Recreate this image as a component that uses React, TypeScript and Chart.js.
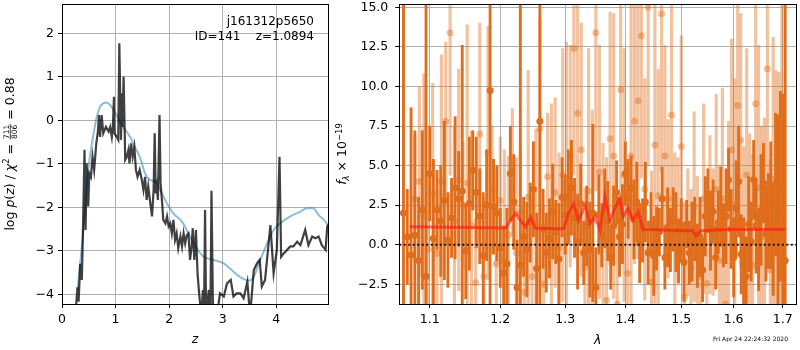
import React, { useEffect, useRef } from 'react';
import { Chart, registerables } from 'chart.js';
Chart.register(...registerables);

const FONT = '"DejaVu Sans", sans-serif';

// ---------------- left panel: log p(z) ----------------
const zTicks = [0, 1, 2, 3, 4];
const logpTicks = [-4, -3, -2, -1, 0, 1, 2];

const zSmooth = [0.29, 0.34, 0.40, 0.46, 0.52, 0.59, 0.65, 0.71, 0.77, 0.83, 0.90, 0.96, 1.02, 1.08, 1.18, 1.27, 1.36, 1.46, 1.55, 1.64, 1.74, 1.83, 1.96, 2.08, 2.24, 2.36, 2.49, 2.64, 2.83, 3.02, 3.20, 3.36, 3.48, 3.58, 3.70, 3.83, 3.95, 4.07, 4.26, 4.45, 4.57, 4.69, 4.79, 4.89, 4.98];
const logpSmooth = [-3.90, -3.29, -2.52, -1.52, -0.84, -0.30, 0.08, 0.31, 0.39, 0.41, 0.35, 0.24, 0.12, -0.03, -0.22, -0.38, -0.61, -0.87, -1.22, -1.37, -1.41, -1.60, -1.91, -2.14, -2.33, -2.60, -2.90, -3.13, -3.21, -3.29, -3.48, -3.63, -3.69, -3.59, -3.21, -2.83, -2.52, -2.37, -2.21, -2.10, -2.02, -2.02, -2.18, -2.29, -2.44];

const zFit = [
  0.24, 0.26, 0.29, 0.31, 0.34, 0.37, 0.39, 0.42, 0.44, 0.46,
  0.49, 0.51, 0.54, 0.57, 0.60, 0.64, 0.67, 0.69, 0.71, 0.74,
  0.77, 0.82, 0.87, 0.90, 0.93, 0.95, 0.97, 0.98, 1.02, 1.05,
  1.07, 1.10, 1.12, 1.13, 1.15, 1.18, 1.21, 1.24, 1.26, 1.29,
  1.32, 1.35, 1.38, 1.41, 1.45, 1.49, 1.52, 1.55, 1.58, 1.61,
  1.64, 1.68, 1.71, 1.73, 1.75, 1.77, 1.79, 1.82, 1.84, 1.87,
  1.89, 1.93, 1.96, 1.99, 2.02, 2.05, 2.08, 2.11, 2.14, 2.17,
  2.21, 2.24, 2.27, 2.30, 2.33, 2.36, 2.39, 2.42, 2.44, 2.47,
  2.50, 2.53, 2.56, 2.60, 2.63, 2.65, 2.67, 2.69, 2.74, 2.77,
  2.79, 2.82, 2.89, 2.95, 3.02, 3.08, 3.15, 3.20, 3.26, 3.33,
  3.39, 3.46, 3.51, 3.58, 3.64, 3.69, 3.73, 3.79, 3.89, 3.95,
  4.01, 4.06, 4.09, 4.14, 4.26, 4.32, 4.39, 4.45, 4.54, 4.60,
  4.67, 4.73, 4.79, 4.85, 4.92, 4.95, 4.97
];
const logpFit = [
  -4.50, -4.30, -3.84, -4.17, -3.30, -3.67, -2.60, -0.68, -2.52, -0.99,
  -1.98, -1.22, -1.30, -0.84, -1.14, -0.53, -0.26, 0.12, -0.38, 0.12,
  -0.30, -0.15, -0.26, -0.15, -0.38, -0.15, 0.54, -0.30, -0.38, -0.45,
  1.77, -0.45, 0.62, -0.15, 1.00, -0.91, -0.84, -0.68, -0.99, -0.53,
  -0.84, -0.61, -1.14, -1.30, -1.14, -1.37, -1.60, -1.30, -1.83, -1.52,
  -1.83, -2.21, -1.60, -0.30, -1.68, -1.52, -1.83, 0.12, -1.45, -1.91,
  -2.29, -2.37, -2.21, -2.44, -2.37, -2.60, -2.29, -2.75, -2.60, -2.94,
  -2.67, -2.90, -2.60, -2.83, -2.64, -2.60, -3.21, -2.90, -2.48, -3.21,
  -2.52, -3.52, -3.98, -4.50, -3.90, -4.50, -2.06, -4.50, -3.90, -4.50,
  -1.62, -4.50, -4.50, -3.98, -4.05, -3.75, -3.67, -4.05, -3.98, -3.98,
  -4.09, -3.71, -4.50, -3.44, -3.29, -3.21, -3.82, -3.67, -2.41, -3.52,
  -2.98, -0.84, -3.14, -3.06, -2.90, -2.90, -2.79, -2.87, -2.52, -2.87,
  -2.67, -2.71, -2.67, -2.87, -2.98, -2.45, -2.40
];

// ---------------- right panel: spectrum ----------------
const lamTicks = [1.1, 1.2, 1.3, 1.4, 1.5, 1.6, 1.7];
const fluxTicks = [-2.5, 0, 2.5, 5, 7.5, 10, 12.5, 15];

const darkLam = [
  1.065, 1.070, 1.075, 1.080, 1.085, 1.090, 1.095, 1.100, 1.105, 1.110,
  1.115, 1.120, 1.125, 1.130, 1.135, 1.140, 1.145, 1.150, 1.155, 1.160,
  1.165, 1.170, 1.175, 1.180, 1.185, 1.190, 1.195, 1.200, 1.205, 1.210,
  1.215, 1.220, 1.225, 1.230, 1.235, 1.240, 1.245, 1.250, 1.255, 1.260,
  1.265, 1.270, 1.275, 1.280, 1.285, 1.290, 1.295, 1.300, 1.305, 1.310,
  1.315, 1.320, 1.325, 1.330, 1.335, 1.340, 1.345, 1.350, 1.355, 1.360,
  1.365, 1.370, 1.375, 1.380, 1.385, 1.390, 1.395, 1.400, 1.405, 1.410,
  1.415, 1.420, 1.425, 1.430, 1.435, 1.440, 1.445, 1.450, 1.455, 1.460,
  1.465, 1.470, 1.475, 1.480, 1.485, 1.490, 1.495, 1.500, 1.505, 1.510,
  1.515, 1.520, 1.525, 1.530, 1.535, 1.540, 1.545, 1.550, 1.555, 1.560,
  1.565, 1.570, 1.575, 1.580, 1.585, 1.590, 1.595, 1.600, 1.605, 1.610,
  1.615, 1.620, 1.625, 1.630, 1.635, 1.640, 1.645, 1.650, 1.655, 1.660,
  1.665, 1.670, 1.675, 1.680, 1.685, 1.690, 1.695, 1.700, 1.705
];
const darkFlux = [
  2.0, 0.5, -0.65, 0.6, -1.0, 2.2, -2.0, 4.5, 0.4, 2.2,
  1.5, 2.8, 0.3, 1.7, 3.6, 2.9, 3.4, -0.4, 2.6, 4.7,
  3.3, 1.8, -0.7, 2.5, 9.75, 2.4, 2.0, -0.2, -1.8, -1.2,
  4.5, 2.7, -2.7, -1.3, 0.5, -0.3, 1.4, 3.5, -1.5, 7.8,
  1.0, -0.5, 0.4, 2.1, 0.8, -0.9, 3.0, 1.9, 3.0, 3.6,
  1.7, 0.2, 2.6, -0.5, 1.2, -0.3, 2.0, -2.7, 1.9, 0.6,
  2.3, 1.5, -0.8, 1.2, 3.3, 0.5, 1.3, 4.5, 2.9, 3.6,
  1.6, 2.7, 0.1, 0.9, 2.7, -0.5, 1.3, -0.7, 0.4, 0.8,
  2.9, -0.8, 1.1, 0.3, 1.6, 0.8, -0.4, 0.9, -1.1, 1.3,
  -0.5, 0.2, 1.0, -0.7, 0.5, -1.6, 1.8, 2.8, 0.9, 2.1,
  -0.8, 1.4, 2.4, 0.6, 1.8, 4.1, 1.0, -0.8, 2.3, 4.0,
  -0.6, -1.3, -2.0, 1.3, 0.2, 4.1, 1.2, -0.4, 2.2, 3.9,
  0.7, 1.5, 2.5, 0.3, 3.8, 1.2, 3.7, 0.5, -1.0
];
const darkErr = [
  18, 3.0, 9.3, 6.6, 4.0, 5.0, 18, 3.0, 5.0, 2.5,
  3.5, 5.0, 3.0, 2.5, 4.5, 3.0, 9.2, 3.0, 4.2, 2.5,
  3.5, 3.0, 4.0, 3.5, 15, 3.0, 3.0, 2.5, 3.0, 3.5,
  3.0, 3.0, 3.0, 18, 2.5, 3.0, 2.5, 3.0, 3.5, 18,
  2.5, 2.5, 2.5, 3.0, 2.0, 3.5, 2.5, 2.5, 3.0, 3.0,
  2.5, 3.0, 2.5, 2.0, 2.5, 3.0, 5.6, 2.5, 2.5, 2.0,
  2.5, 2.5, 2.0, 2.5, 2.0, 2.5, 2.5, 2.0, 2.5, 2.0,
  2.5, 2.5, 2.5, 2.0, 2.5, 2.0, 2.0, 2.5, 2.0, 1.5,
  2.0, 2.0, 2.5, 2.0, 2.0, 2.5, 2.0, 2.0, 2.5, 1.5,
  2.0, 2.5, 2.0, 2.0, 2.5, 2.0, 2.5, 2.0, 2.5, 2.0,
  2.0, 2.0, 2.5, 2.0, 3.0, 2.0, 2.5, 2.5, 3.0, 3.5,
  2.5, 3.0, 2.5, 3.0, 2.5, 2.5, 3.0, 2.5, 3.5, 2.5,
  3.0, 3.0, 4.0, 3.5, 4.5, 7.0, 6.0, 9.0, 18
];

const lightLam = [
  1.080, 1.086, 1.092, 1.098, 1.104, 1.110, 1.116, 1.122, 1.128, 1.134,
  1.140, 1.146, 1.152, 1.158, 1.164, 1.170, 1.176, 1.182, 1.188, 1.194,
  1.200, 1.206, 1.212, 1.218, 1.224, 1.230, 1.236, 1.242, 1.248, 1.254,
  1.260, 1.266, 1.272, 1.278, 1.284, 1.290, 1.296, 1.302, 1.308, 1.314,
  1.320, 1.326, 1.332, 1.338, 1.344, 1.350, 1.356, 1.362, 1.368, 1.374,
  1.380, 1.386, 1.392, 1.398, 1.404, 1.410, 1.416, 1.422, 1.428, 1.434,
  1.440, 1.446, 1.452, 1.458, 1.464, 1.470, 1.476, 1.482, 1.488, 1.494,
  1.500, 1.506, 1.512, 1.518, 1.524, 1.530, 1.536, 1.542, 1.548, 1.554,
  1.560, 1.566, 1.572, 1.578, 1.584, 1.590, 1.596, 1.602, 1.608, 1.614,
  1.620, 1.626, 1.632, 1.638, 1.644, 1.650, 1.656, 1.662, 1.668, 1.674,
  1.680, 1.686, 1.692, 1.698
];
const lightFlux = [
  2.9, 4.0, 1.8, -0.3, 3.2, -0.55, 4.0, 7.8, 13.4, 1.5,
  4.1, 2.5, 3.9, 1.2, -2.4, 7.0, -2.0, 5.8, 3.5, -1.2,
  2.8, -1.0, 0.6, 4.6, -0.5, 2.0, -3.0, 3.0, -2.0, 1.3,
  7.3, -2.5, 4.3, 0.9, 3.3, -0.2, 4.4, 2.8, 5.6, 12.4,
  8.3, 6.0, -1.4, 3.4, 1.5, 13.4, 4.6, 0.4, -3.5, 6.7,
  5.6, -3.75, 9.8, 4.4, -1.8, 5.6, 7.8, 9.1, 13.2, 3.5,
  15.0, -2.35, 6.3, 3.1, 14.6, 5.6, 2.9, 8.2, -0.2, 1.5,
  6.2, -3.3, 0.8, -1.5, 2.4, 0.3, -2.0, 2.9, -2.45, 1.9,
  0.8, 3.5, -1.0, 2.9, -3.75, 1.8, 6.0, 2.5, 8.8, 6.6,
  -0.8, 4.4, 1.0, -1.3, 8.9, 3.6, 0.5, 2.0, 11.1, -1.6,
  4.1, 3.0, 0.9, 2.0
];
const lightErr = [
  4, 6, 9, 5, 7, 4, 8, 5, 9, 6,
  7, 4, 10, 6, 4, 7, 5, 8, 4, 6,
  4, 7, 5, 4, 6, 4, 4, 8, 5, 6,
  7, 5, 4, 8, 6, 6, 8, 10, 7, 8,
  7, 8, 5, 9, 7, 10, 8, 6, 9, 8,
  9, 6, 10, 8, 7, 10, 9, 10, 9, 7,
  10, 7, 10, 8, 10, 7, 5, 8, 6, 4,
  7, 6, 4, 5, 6, 4, 5, 6, 6, 5,
  4, 6, 6, 7, 6, 6, 7, 8, 8, 8,
  7, 8, 6, 7, 8, 9, 7, 6, 8, 7,
  9, 8, 10, 14
];

const modelLam = [1.0734, 1.2081, 1.2156, 1.2230, 1.2305, 1.2380, 1.2456, 1.2533, 1.2975, 1.3054, 1.3134, 1.3214, 1.3268, 1.3323, 1.3405, 1.3487, 1.3570, 1.3654, 1.3737, 1.3821, 1.3905, 1.3962, 1.4048, 1.4134, 1.4221, 1.4308, 1.4632, 1.5210, 1.5272, 1.5365, 1.5876, 1.7048];
const modelFlux = [1.14, 1.06, 1.56, 1.99, 1.52, 1.14, 1.73, 1.04, 1.01, 1.99, 2.58, 1.56, 1.99, 2.51, 1.35, 1.77, 0.93, 3.04, 1.56, 2.30, 2.94, 1.77, 2.30, 1.56, 2.09, 0.97, 0.93, 0.89, 0.55, 0.89, 0.97, 0.97];

const zeroLam = [1.0595, 1.7279];
const zeroFlux = [0, 0];

const DARK = 'rgb(223,109,27)';
const LIGHT = 'rgba(223,109,27,0.42)';

const minus = (s: string) => s.replace('-', '\u2212');

const framePlugin = {
  id: 'frame',
  afterDraw(chart: any) {
    const { ctx, chartArea: a } = chart;
    ctx.save();
    ctx.strokeStyle = '#000';
    ctx.lineWidth = 1;
    const l = Math.floor(a.left) + 0.5, t = Math.floor(a.top) + 0.5;
    const r = Math.floor(a.right) + 0.5, b = Math.floor(a.bottom) + 0.5;
    ctx.strokeRect(l, t, r - l, b - t);
    ctx.restore();
  },
};

type Part = { t: string; f: string; dy?: number; frac?: [string, string] };

function drawRotated(ctx: CanvasRenderingContext2D, parts: Part[], cy: number, v0: number) {
  ctx.save();
  ctx.translate(0, cy);
  ctx.rotate(-Math.PI / 2);
  ctx.fillStyle = '#000';
  ctx.textBaseline = 'alphabetic';
  const widths = parts.map((p) => {
    ctx.font = p.f;
    if (p.frac) return Math.max(ctx.measureText(p.frac[0]).width, ctx.measureText(p.frac[1]).width) + 2;
    return ctx.measureText(p.t).width;
  });
  const total = widths.reduce((s, w) => s + w, 0);
  let u = -total / 2;
  parts.forEach((p, i) => {
    ctx.font = p.f;
    if (p.frac) {
      const w = widths[i];
      const axis = v0 - 3.8;
      ctx.textAlign = 'center';
      ctx.fillText(p.frac[0], u + w / 2, axis - 1.3);
      ctx.fillText(p.frac[1], u + w / 2, axis + 6.8);
      ctx.fillRect(u + 0.5, axis - 0.4, w - 1, 0.8);
      ctx.textAlign = 'left';
    } else {
      ctx.textAlign = 'left';
      ctx.fillText(p.t, u, v0 + (p.dy || 0));
    }
    u += widths[i];
  });
  ctx.restore();
}

const N = `12.5px ${FONT}`;
const I = `italic 12.5px ${FONT}`;
const S = `8.5px ${FONT}`;
const F = `7.5px ${FONT}`;

const leftText = {
  id: 'leftText',
  afterDraw(chart: any) {
    const ctx = chart.ctx as CanvasRenderingContext2D;
    const a = chart.chartArea;
    drawRotated(ctx, [
      { t: 'log ', f: N }, { t: 'p', f: I }, { t: '(', f: N }, { t: 'z', f: I }, { t: ')', f: N },
      { t: ' / ', f: N }, { t: '\u03c7', f: I }, { t: '2', f: S, dy: -5 }, { t: ' = ', f: N },
      { t: '', f: F, frac: ['711', '806'] }, { t: ' = 0.88', f: N },
    ], (a.top + a.bottom) / 2, 14);
    ctx.save();
    ctx.fillStyle = '#000';
    ctx.font = I;
    ctx.textAlign = 'center';
    ctx.textBaseline = 'middle';
    ctx.fillText('z', (a.left + a.right) / 2, 340);
    ctx.font = `12px ${FONT}`;
    ctx.textAlign = 'right';
    ctx.fillText('j161312p5650', 314, 22);
    ctx.fillText('ID=141    z=1.0894', 314, 37);
    ctx.restore();
  },
};

const rightText = {
  id: 'rightText',
  afterDraw(chart: any) {
    const ctx = chart.ctx as CanvasRenderingContext2D;
    const a = chart.chartArea;
    drawRotated(ctx, [
      { t: 'f', f: I }, { t: '\u03bb', f: `italic 8.5px ${FONT}`, dy: 2.5 }, { t: ' \u00d7 10', f: N },
      { t: '\u221219', f: S, dy: -4.5 },
    ], (a.top + a.bottom) / 2, 11);
    ctx.save();
    ctx.fillStyle = '#000';
    ctx.font = I;
    ctx.textAlign = 'center';
    ctx.textBaseline = 'middle';
    ctx.fillText('\u03bb', (a.left + a.right) / 2, 341);
    ctx.font = `6px ${FONT}`;
    ctx.textAlign = 'right';
    ctx.fillText('Fri Apr 24 22:24:32 2020', 453, 339);
    ctx.restore();
  },
};

const gridOpts = { color: '#b0b0b0', lineWidth: 1, tickColor: '#000', tickLength: 4, drawTicks: true, offset: false };
const tickFont = { family: FONT, size: 12.5 };

function xFit(h: number) {
  return (s: any) => { s.height = h; s.paddingLeft = 0; s.paddingRight = 0; s.paddingTop = 0; s.paddingBottom = 0; };
}
function yFit(w: number) {
  return (s: any) => { s.width = w; s.paddingLeft = 0; s.paddingRight = 0; s.paddingTop = 0; s.paddingBottom = 0; };
}

export default function App() {
  const leftRef = useRef<HTMLCanvasElement>(null);
  const rightRef = useRef<HTMLCanvasElement>(null);

  useEffect(() => {
    const left = new Chart(leftRef.current as HTMLCanvasElement, {
      type: 'line',
      data: {
        datasets: [
          {
            data: zSmooth.map((z, i) => ({ x: z, y: logpSmooth[i] })),
            borderColor: 'rgba(31,119,180,0.5)', borderWidth: 2, pointRadius: 0,
            cubicInterpolationMode: 'monotone', clip: 0, order: 2,
          } as any,
          {
            data: zFit.map((z, i) => ({ x: z, y: logpFit[i] })),
            borderColor: 'rgba(0,0,0,0.75)', borderWidth: 2.2, pointRadius: 0,
            tension: 0, clip: 0, order: 1,
          } as any,
        ],
      },
      options: {
        animation: false, responsive: false, events: [],
        plugins: { legend: { display: false }, tooltip: { enabled: false } },
        layout: { padding: { top: 4, right: 7, left: 0, bottom: 0 } },
        scales: {
          x: {
            type: 'linear', min: 0, max: 4.965,
            afterBuildTicks: (s: any) => { s.ticks = zTicks.map((v) => ({ value: v })); },
            afterFit: xFit(46),
            grid: gridOpts, border: { display: false },
            ticks: { font: tickFont, color: '#000', padding: 4, maxRotation: 0, autoSkip: false, callback: (v: any) => minus(String(v)) },
          },
          y: {
            type: 'linear', min: -4.223, max: 2.674,
            afterBuildTicks: (s: any) => { s.ticks = logpTicks.map((v) => ({ value: v })); },
            afterFit: yFit(62),
            grid: gridOpts, border: { display: false },
            ticks: { font: tickFont, color: '#000', padding: 4, autoSkip: false, callback: (v: any) => minus(String(v)) },
          },
        },
      } as any,
      plugins: [framePlugin, leftText],
    });

    const right = new Chart(rightRef.current as HTMLCanvasElement, {
      type: 'bar',
      data: {
        datasets: [
          {
            type: 'line', data: zeroLam.map((x, i) => ({ x, y: zeroFlux[i] })),
            borderColor: 'rgba(0,0,0,0.85)', borderWidth: 2, borderDash: [2, 2.5], pointRadius: 0, clip: 0, order: 1,
          },
          {
            type: 'line', data: modelLam.map((x, i) => ({ x, y: modelFlux[i] })),
            borderColor: 'rgba(255,20,20,0.6)', borderWidth: 3, pointRadius: 0, tension: 0, clip: 0, order: 2,
          },
          {
            type: 'scatter', data: darkLam.map((x, i) => ({ x, y: darkFlux[i] })),
            pointRadius: 3.5, pointBackgroundColor: DARK, pointBorderWidth: 0, borderWidth: 0, clip: 0, order: 3,
          },
          {
            type: 'bar', data: darkLam.map((x, i) => ({ x, y: [darkFlux[i] - darkErr[i], darkFlux[i] + darkErr[i]] })),
            backgroundColor: DARK, barThickness: 2.2, grouped: false, clip: 0, order: 4,
          },
          {
            type: 'scatter', data: lightLam.map((x, i) => ({ x, y: lightFlux[i] })),
            pointRadius: 3.5, pointBackgroundColor: LIGHT, pointBorderWidth: 0, borderWidth: 0, clip: 0, order: 5,
          },
          {
            type: 'bar', data: lightLam.map((x, i) => ({ x, y: [lightFlux[i] - lightErr[i], lightFlux[i] + lightErr[i]] })),
            backgroundColor: LIGHT, barThickness: 2.5, grouped: false, clip: 0, order: 6,
          },
        ] as any,
      },
      options: {
        animation: false, responsive: false, events: [],
        plugins: { legend: { display: false }, tooltip: { enabled: false } },
        layout: { padding: { top: 4, right: 1, left: 0, bottom: 0 } },
        scales: {
          x: {
            type: 'logarithmic', min: 1.0595, max: 1.7279, offset: false,
            afterBuildTicks: (s: any) => { s.ticks = lamTicks.map((v) => ({ value: v })); },
            afterFit: xFit(46),
            grid: gridOpts, border: { display: false },
            ticks: { font: tickFont, color: '#000', padding: 4, maxRotation: 0, autoSkip: false, callback: (v: any) => Number(v).toFixed(1) },
          },
          y: {
            type: 'linear', min: -3.744, max: 15.21,
            afterBuildTicks: (s: any) => { s.ticks = fluxTicks.map((v) => ({ value: v })); },
            afterFit: yFit(64.3),
            grid: gridOpts, border: { display: false },
            ticks: { font: tickFont, color: '#000', padding: 7, autoSkip: false, callback: (v: any) => minus(Number(v).toFixed(1)) },
          },
        },
      } as any,
      plugins: [framePlugin, rightText],
    });

    return () => { left.destroy(); right.destroy(); };
  }, []);

  return (
    <div style={{ position: 'absolute', left: 0, top: 0, width: 800, height: 350, background: '#fff' }}>
      <canvas ref={leftRef} width={335} height={350} style={{ position: 'absolute', left: 0, top: 0, width: 335, height: 350 }} />
      <canvas ref={rightRef} width={465} height={350} style={{ position: 'absolute', left: 335, top: 0, width: 465, height: 350 }} />
    </div>
  );
}
